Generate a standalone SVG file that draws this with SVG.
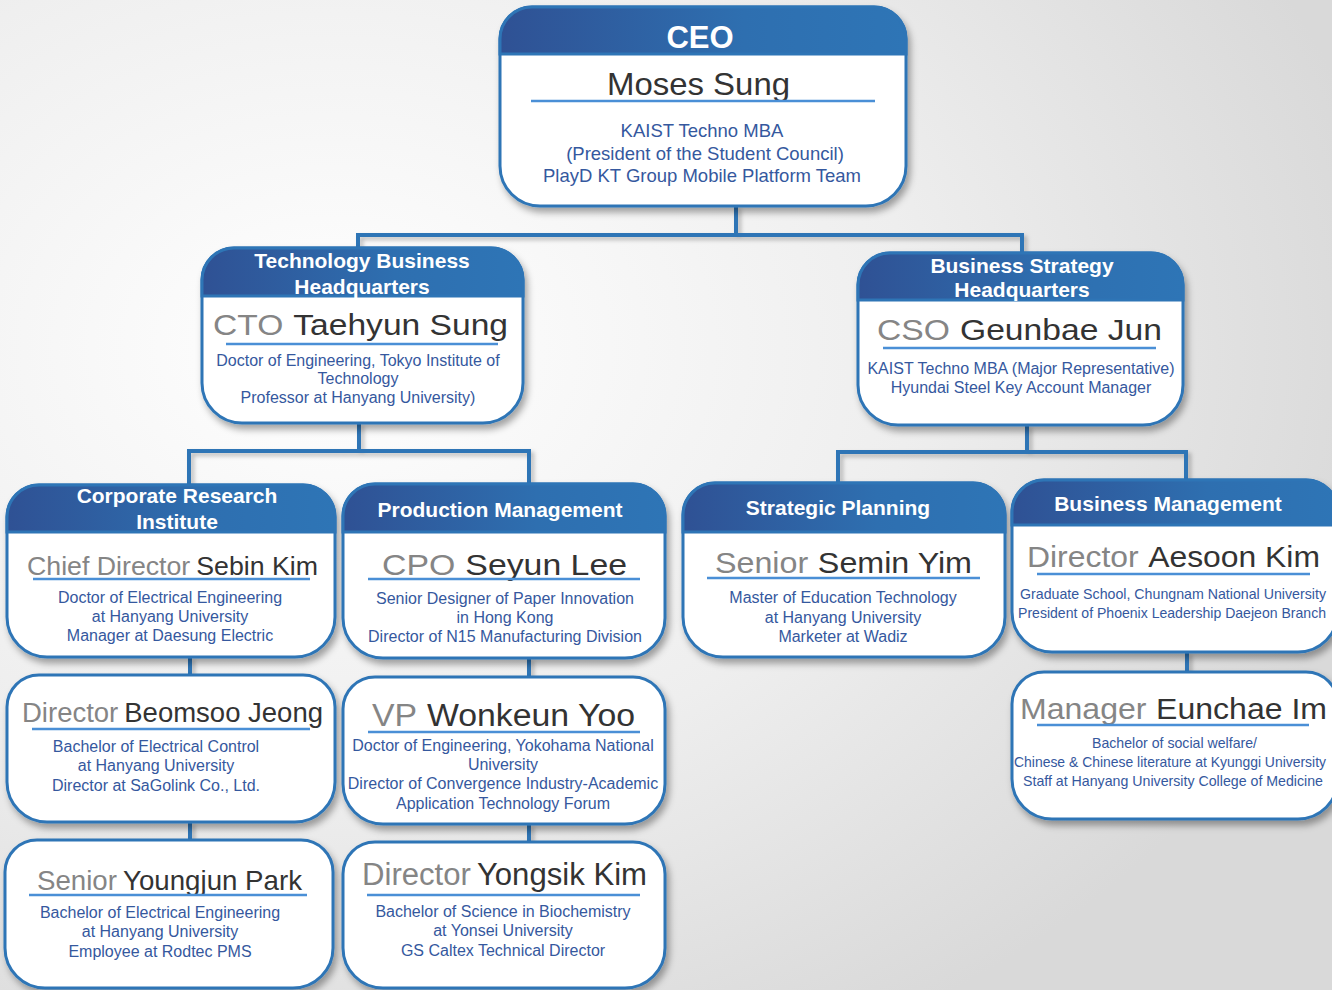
<svg xmlns="http://www.w3.org/2000/svg" width="1332" height="990" viewBox="0 0 1332 990">
<defs>
<radialGradient id="bg" cx="0.25" cy="0.35" r="0.8">
<stop offset="0" stop-color="#ffffff"/>
<stop offset="0.55" stop-color="#eeeeee"/>
<stop offset="1" stop-color="#d9d9d9"/>
</radialGradient>
<linearGradient id="hdr" x1="0" y1="0" x2="1" y2="0">
<stop offset="0" stop-color="#2f5194"/>
<stop offset="0.6" stop-color="#2e6fb0"/>
<stop offset="1" stop-color="#2e75b6"/>
</linearGradient>
<filter id="sh" x="-10%" y="-10%" width="125%" height="130%">
<feDropShadow dx="3" dy="5" stdDeviation="3.5" flood-color="#000" flood-opacity="0.35"/>
</filter>
<filter id="lsh" x="-10%" y="-10%" width="120%" height="140%">
<feDropShadow dx="3" dy="3" stdDeviation="2" flood-color="#000" flood-opacity="0.25"/>
</filter>
<style>
.box{fill:#ffffff;stroke:#2e75b6;stroke-width:3;}
.hd{fill:url(#hdr);stroke:#2e75b6;stroke-width:3;}
.ht{font-family:"Liberation Sans",Arial,sans-serif;font-weight:bold;font-size:21px;fill:#ffffff;text-anchor:middle;}
.tt{font-family:"Liberation Sans",Arial,sans-serif;font-size:30px;fill:#333333;}
.pre{fill:#858585;}
.ul{stroke:#4a8fd6;stroke-width:2.5;}
.ds{font-family:"Liberation Sans",Arial,sans-serif;font-size:16px;fill:#35589e;text-anchor:middle;}
.dl{font-family:"Liberation Sans",Arial,sans-serif;font-size:14.2px;fill:#35589e;}
.cn{fill:none;stroke:#2e75b6;stroke-width:4;}
</style>
</defs>
<rect x="0" y="0" width="1332" height="990" fill="url(#bg)"/>

<g id="connectors" filter="url(#lsh)">
<path class="cn" d="M736,206 V235 M358,235 H1022 M358,233 V250 M1022,233 V255"/>
<path class="cn" d="M359,423 V451 M189,451 H529 M189,449 V487 M529,449 V486"/>
<path class="cn" d="M1027,425 V452 M838,452 H1186 M838,450 V485 M1186,450 V482"/>
<path class="cn" d="M190,657 V677 M190,822 V842 M529,658 V679 M529,824 V844 M1187,652 V674"/>
</g>

<g id="ceo">
<path class="box" filter="url(#sh)" d="M532,7 H874 A32 32 0 0 1 906,39 V166 A40 40 0 0 1 866,206 H540 A40 40 0 0 1 500,166 V39 A32 32 0 0 1 532,7 Z"/>
<path class="hd" d="M500,54 V39 A32 32 0 0 1 532,7 H874 A32 32 0 0 1 906,39 V54 Z"/>
<text class="ht" x="700" y="48" style="font-size:31px">CEO</text>
<text class="tt" x="607" y="95" textLength="183" lengthAdjust="spacingAndGlyphs" style="font-size:32px">Moses Sung</text>
<line class="ul" x1="531" y1="101" x2="875" y2="101"/>
<text class="ds" x="702" y="137" style="font-size:18.5px">KAIST Techno MBA</text>
<text class="ds" x="705" y="160" style="font-size:18.5px">(President of the Student Council)</text>
<text class="ds" x="702" y="182" style="font-size:18.5px">PlayD KT Group Mobile Platform Team</text>
</g>

<g id="cto">
<path class="box" filter="url(#sh)" d="M234,248 H491 A32 32 0 0 1 523,280 V383 A40 40 0 0 1 483,423 H242 A40 40 0 0 1 202,383 V280 A32 32 0 0 1 234,248 Z"/>
<path class="hd" d="M202,296 V280 A32 32 0 0 1 234,248 H491 A32 32 0 0 1 523,280 V296 Z"/>
<text class="ht" x="362" y="268">Technology Business</text>
<text class="ht" x="362" y="294">Headquarters</text>
<text class="tt" x="213" y="335" textLength="295" lengthAdjust="spacingAndGlyphs"><tspan class="pre">CTO</tspan><tspan dx="9">Taehyun Sung</tspan></text>
<line class="ul" x1="226" y1="344" x2="498" y2="344"/>
<text class="ds" x="358" y="366">Doctor of Engineering, Tokyo Institute of</text>
<text class="ds" x="358" y="384">Technology</text>
<text class="ds" x="358" y="403">Professor at Hanyang University)</text>
</g>

<g id="cso">
<path class="box" filter="url(#sh)" d="M890,253 H1151 A32 32 0 0 1 1183,285 V385 A40 40 0 0 1 1143,425 H898 A40 40 0 0 1 858,385 V285 A32 32 0 0 1 890,253 Z"/>
<path class="hd" d="M858,300 V285 A32 32 0 0 1 890,253 H1151 A32 32 0 0 1 1183,285 V300 Z"/>
<text class="ht" x="1022" y="273">Business Strategy</text>
<text class="ht" x="1022" y="297">Headquarters</text>
<text class="tt" x="877" y="340" textLength="285" lengthAdjust="spacingAndGlyphs"><tspan class="pre">CSO</tspan><tspan dx="9">Geunbae Jun</tspan></text>
<line class="ul" x1="883" y1="348" x2="1156" y2="348"/>
<text class="ds" x="1021" y="374">KAIST Techno MBA (Major Representative)</text>
<text class="ds" x="1021" y="393">Hyundai Steel Key Account Manager</text>
</g>

<g id="research">
<path class="box" filter="url(#sh)" d="M39,485 H303 A32 32 0 0 1 335,517 V617 A40 40 0 0 1 295,657 H47 A40 40 0 0 1 7,617 V517 A32 32 0 0 1 39,485 Z"/>
<path class="hd" d="M7,532 V517 A32 32 0 0 1 39,485 H303 A32 32 0 0 1 335,517 V532 Z"/>
<text class="ht" x="177" y="503">Corporate Research</text>
<text class="ht" x="177" y="529">Institute</text>
<text class="tt" x="27" y="575" textLength="291" lengthAdjust="spacingAndGlyphs" style="font-size:26.7px"><tspan class="pre">Chief Director</tspan><tspan dx="6">Sebin Kim</tspan></text>
<line class="ul" x1="33" y1="579" x2="310" y2="579"/>
<text class="ds" x="170" y="603">Doctor of Electrical Engineering</text>
<text class="ds" x="170" y="622">at Hanyang University</text>
<text class="ds" x="170" y="641">Manager at Daesung Electric</text>
</g>

<g id="production">
<path class="box" filter="url(#sh)" d="M375,484 H633 A32 32 0 0 1 665,516 V618 A40 40 0 0 1 625,658 H383 A40 40 0 0 1 343,618 V516 A32 32 0 0 1 375,484 Z"/>
<path class="hd" d="M343,532 V516 A32 32 0 0 1 375,484 H633 A32 32 0 0 1 665,516 V532 Z"/>
<text class="ht" x="500" y="517">Production Management</text>
<text class="tt" x="382" y="575" textLength="245" lengthAdjust="spacingAndGlyphs"><tspan class="pre">CPO</tspan><tspan dx="9">Seyun Lee</tspan></text>
<line class="ul" x1="368" y1="579" x2="640" y2="579"/>
<text class="ds" x="505" y="604">Senior Designer of Paper Innovation</text>
<text class="ds" x="505" y="623">in Hong Kong</text>
<text class="ds" x="505" y="642">Director of N15 Manufacturing Division</text>
</g>

<g id="strategic">
<path class="box" filter="url(#sh)" d="M715,483 H973 A32 32 0 0 1 1005,515 V617 A40 40 0 0 1 965,657 H723 A40 40 0 0 1 683,617 V515 A32 32 0 0 1 715,483 Z"/>
<path class="hd" d="M683,532 V515 A32 32 0 0 1 715,483 H973 A32 32 0 0 1 1005,515 V532 Z"/>
<text class="ht" x="838" y="515">Strategic Planning</text>
<text class="tt" x="715" y="573" textLength="257" lengthAdjust="spacingAndGlyphs"><tspan class="pre">Senior</tspan><tspan dx="9">Semin Yim</tspan></text>
<line class="ul" x1="707" y1="578" x2="980" y2="578"/>
<text class="ds" x="843" y="603">Master of Education Technology</text>
<text class="ds" x="843" y="623">at Hanyang University</text>
<text class="ds" x="843" y="642">Marketer at Wadiz</text>
</g>

<g id="business">
<path class="box" filter="url(#sh)" d="M1044,480 H1306 A32 32 0 0 1 1338,512 V612 A40 40 0 0 1 1298,652 H1052 A40 40 0 0 1 1012,612 V512 A32 32 0 0 1 1044,480 Z"/>
<path class="hd" d="M1012,525 V512 A32 32 0 0 1 1044,480 H1306 A32 32 0 0 1 1338,512 V525 Z"/>
<text class="ht" x="1168" y="511">Business Management</text>
<text class="tt" x="1027" y="567" textLength="293" lengthAdjust="spacingAndGlyphs"><tspan class="pre">Director</tspan><tspan dx="9">Aesoon Kim</tspan></text>
<line class="ul" x1="1037" y1="574" x2="1310" y2="574"/>
<text class="dl" x="1020" y="599" textLength="306" lengthAdjust="spacingAndGlyphs">Graduate School, Chungnam National University</text>
<text class="dl" x="1018" y="618" textLength="308" lengthAdjust="spacingAndGlyphs">President of Phoenix Leadership Daejeon Branch</text>
</g>

<g id="beomsoo">
<path class="box" filter="url(#sh)" d="M39,675 H303 A32 32 0 0 1 335,707 V782 A40 40 0 0 1 295,822 H47 A40 40 0 0 1 7,782 V707 A32 32 0 0 1 39,675 Z"/>
<text class="tt" x="22" y="722" textLength="301" lengthAdjust="spacingAndGlyphs" style="font-size:27.5px"><tspan class="pre">Director</tspan><tspan dx="6">Beomsoo Jeong</tspan></text>
<line class="ul" x1="32" y1="729" x2="310" y2="729"/>
<text class="ds" x="156" y="752">Bachelor of Electrical Control</text>
<text class="ds" x="156" y="771">at Hanyang University</text>
<text class="ds" x="156" y="791">Director at SaGolink Co., Ltd.</text>
</g>

<g id="wonkeun">
<path class="box" filter="url(#sh)" d="M375,677 H633 A32 32 0 0 1 665,709 V784 A40 40 0 0 1 625,824 H383 A40 40 0 0 1 343,784 V709 A32 32 0 0 1 375,677 Z"/>
<text class="tt" x="372" y="726" textLength="263" lengthAdjust="spacingAndGlyphs" style="font-size:31px"><tspan class="pre">VP</tspan><tspan dx="9">Wonkeun Yoo</tspan></text>
<line class="ul" x1="368" y1="732" x2="640" y2="732"/>
<text class="ds" x="503" y="751">Doctor of Engineering, Yokohama National</text>
<text class="ds" x="503" y="770">University</text>
<text class="ds" x="503" y="789">Director of Convergence Industry-Academic</text>
<text class="ds" x="503" y="809">Application Technology Forum</text>
</g>

<g id="eunchae">
<path class="box" filter="url(#sh)" d="M1044,672 H1306 A32 32 0 0 1 1338,704 V779 A40 40 0 0 1 1298,819 H1052 A40 40 0 0 1 1012,779 V704 A32 32 0 0 1 1044,672 Z"/>
<text class="tt" x="1020" y="719" textLength="307" lengthAdjust="spacingAndGlyphs"><tspan class="pre">Manager</tspan><tspan dx="9">Eunchae Im</tspan></text>
<line class="ul" x1="1037" y1="725" x2="1309" y2="725"/>
<text class="dl" x="1092" y="748" textLength="165" lengthAdjust="spacingAndGlyphs">Bachelor of social welfare/</text>
<text class="dl" x="1014" y="767" textLength="312" lengthAdjust="spacingAndGlyphs">Chinese &amp; Chinese literature at Kyunggi University</text>
<text class="dl" x="1023" y="786" textLength="300" lengthAdjust="spacingAndGlyphs">Staff at Hanyang University College of Medicine</text>
</g>

<g id="youngjun">
<path class="box" filter="url(#sh)" d="M37,840 H301 A32 32 0 0 1 333,872 V948 A40 40 0 0 1 293,988 H45 A40 40 0 0 1 5,948 V872 A32 32 0 0 1 37,840 Z"/>
<text class="tt" x="37" y="890" textLength="265" lengthAdjust="spacingAndGlyphs" style="font-size:27.4px"><tspan class="pre">Senior</tspan><tspan dx="6">Youngjun Park</tspan></text>
<line class="ul" x1="29" y1="895" x2="307" y2="895"/>
<text class="ds" x="160" y="918">Bachelor of Electrical Engineering</text>
<text class="ds" x="160" y="937">at Hanyang University</text>
<text class="ds" x="160" y="957">Employee at Rodtec PMS</text>
</g>

<g id="yongsik">
<path class="box" filter="url(#sh)" d="M375,842 H633 A32 32 0 0 1 665,874 V948 A40 40 0 0 1 625,988 H383 A40 40 0 0 1 343,948 V874 A32 32 0 0 1 375,842 Z"/>
<text class="tt" x="362" y="885" textLength="285" lengthAdjust="spacingAndGlyphs" style="font-size:31px"><tspan class="pre">Director</tspan><tspan dx="6">Yongsik Kim</tspan></text>
<line class="ul" x1="367" y1="895" x2="640" y2="895"/>
<text class="ds" x="503" y="917">Bachelor of Science in Biochemistry</text>
<text class="ds" x="503" y="936">at Yonsei University</text>
<text class="ds" x="503" y="956">GS Caltex Technical Director</text>
</g>
</svg>
